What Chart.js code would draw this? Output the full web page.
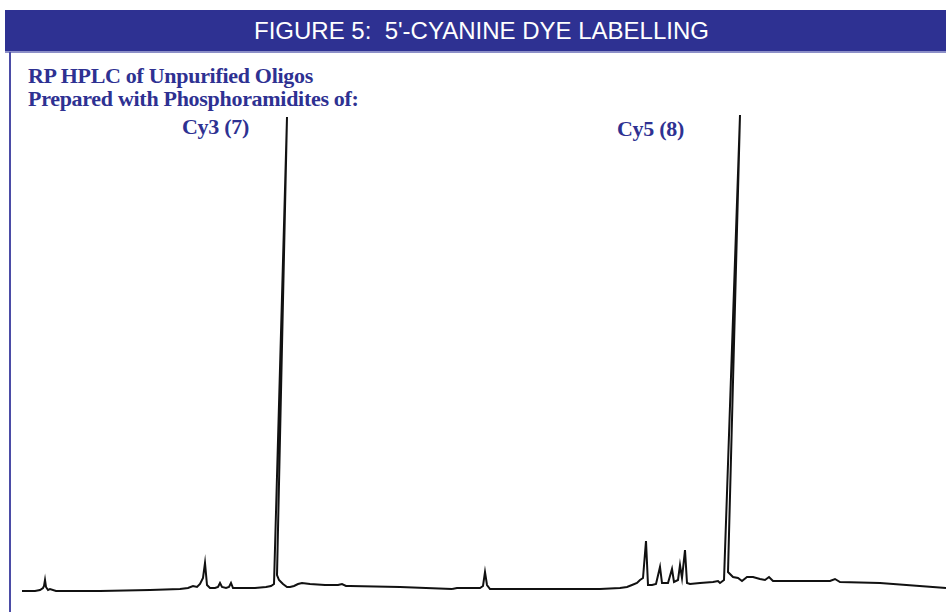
<!DOCTYPE html>
<html>
<head>
<meta charset="utf-8">
<script src="https://cdn.jsdelivr.net/npm/chart.js@4"></script>
<style>
  body { margin: 0; width: 946px; height: 612px; background: #fff; position: relative; overflow: hidden; }
  #header { position: absolute; left: 5px; top: 10px; width: 941px; height: 41px; background: #2e3192; }
  #headText { position: absolute; left: 254px; top: 19px; color: #fff; white-space: nowrap;
    font-family: "Liberation Sans", Arial, sans-serif; font-size: 24px; line-height: 24px; }
  #rule { position: absolute; left: 5px; top: 51px; width: 941px; height: 2px; background: #8c8fc8; }
  #border { position: absolute; left: 9px; top: 52px; width: 2px; height: 560px; background: #4b4ca6; }
  .ttl { position: absolute; font-family: "Liberation Serif", "Times New Roman", serif; font-weight: bold;
    color: #2e3192; font-size: 22px; line-height: 22px; white-space: nowrap; letter-spacing: -0.3px; }
  canvas { position: absolute; }
</style>
</head>
<body>
<div id="header"></div>
<div id="headText">FIGURE 5:&nbsp; 5'-CYANINE DYE LABELLING</div>
<div id="rule"></div>
<div id="border"></div>
<div class="ttl" style="left:28px; top:65px;">RP HPLC of Unpurified Oligos</div>
<div class="ttl" style="left:28px; top:88px;">Prepared with Phosphoramidites of:</div>
<div class="ttl" style="left:182px; top:116px;">Cy3 (7)</div>
<div class="ttl" style="left:617px; top:118px;">Cy5 (8)</div>
<canvas id="cy3Chart" width="430" height="500" style="left:22px; top:100px;"></canvas>
<canvas id="cy5Chart" width="494" height="500" style="left:452px; top:100px;"></canvas>
<script>
// Cy3 run: retention time (min) and detector signal (mAU)
const cy3Time = [0.0, 1.3, 1.8, 2.1, 2.2, 2.3, 2.4, 2.6, 2.8, 3.4, 7.8, 12.8, 15.8, 16.6, 17.1, 17.5, 17.8, 18.1, 18.3, 18.5,
  18.8, 19.3, 19.6, 19.8, 20.0, 20.4, 20.7, 20.9, 21.1, 21.8, 23.3, 24.4, 24.9, 25.2, 26.5, 25.5, 25.7, 25.9, 26.1, 26.5,
  26.8, 27.2, 27.6, 28.0, 28.8, 30.3, 31.6, 32.0, 32.4, 32.8, 37.8, 43.0]
const cy3Signal = [-1, -1, 0, 2, 4, 10, 3, 0, 1, -1, -1, 0, 1, 2, 4, 3, 6, 12, 27, 5,
  2, 2, 3, 7, 3, 2, 3, 7, 2, 2, 2, 3, 4, 6, 473, 15, 10, 8, 6, 3,
  3, 4, 6, 7, 6, 5, 5, 6, 4, 4, 3, 1]

// Cy5 run
const cy5Time = [0.0, 0.5, 2.8, 3.1, 3.3, 3.5, 3.8, 6.6, 10.8, 14.8, 16.8, 17.5, 18.0, 18.5, 18.8, 19.1, 19.4, 19.6, 20.0, 20.4,
  20.8, 21.0, 21.6, 22.0, 22.2, 22.6, 22.8, 23.0, 23.3, 23.5, 23.8, 24.8, 26.1, 26.6, 26.8, 27.2, 28.8, 27.6, 28.1, 28.6,
  29.0, 29.5, 30.1, 30.8, 31.3, 31.7, 32.1, 34.8, 37.8, 38.3, 38.8, 42.8, 49.4]
const cy5Signal = [1, 2, 2, 4, 18, 5, 1, 1, 1, 1, 2, 3, 5, 7, 10, 12, 49, 5, 5, 6,
  23, 7, 7, 21, 8, 10, 25, 12, 40, 7, 6, 7, 8, 9, 7, 10, 475, 18, 13, 12,
  9, 13, 13, 11, 10, 13, 9, 9, 9, 11, 8, 7, 2]

function makeTrace(id, times, signal, maxTime) {
  const points = times.map((t, i) => {
    return { x: t, y: signal[i] }
  })
  return new Chart(document.getElementById(id), {
    type: 'scatter',
    data: {
      datasets: [{
        data: points,
        showLine: true,
        borderColor: '#111',
        borderWidth: 2,
        pointRadius: 0,
        tension: 0
      }]
    },
    options: {
      responsive: false,
      animation: false,
      layout: { padding: 0 },
      plugins: { legend: { display: false }, tooltip: { enabled: false } },
      scales: {
        x: { type: 'linear', min: 0, max: maxTime, display: false },
        y: { min: -10, max: 490, display: false }
      }
    }
  })
}

makeTrace('cy3Chart', cy3Time, cy3Signal, 43.0)
makeTrace('cy5Chart', cy5Time, cy5Signal, 49.4)
</script>
</body>
</html>
